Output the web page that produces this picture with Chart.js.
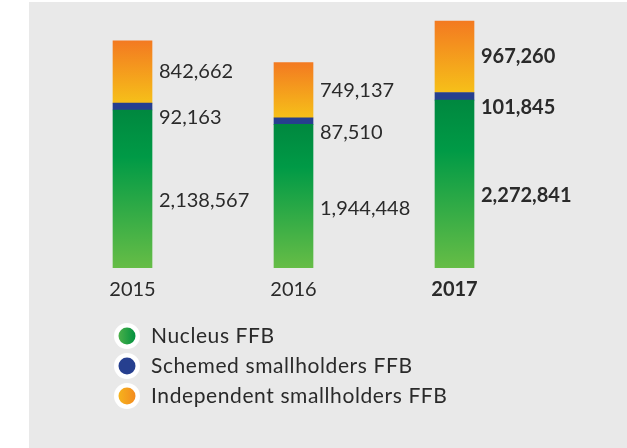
<!DOCTYPE html>
<html>
<head>
<meta charset="utf-8">
<script src="https://cdn.jsdelivr.net/npm/chart.js@4.4.0/dist/chart.umd.min.js"></script>
<style>
    html, body { margin: 0; padding: 0; background: #fff; }
    #wrap { width: 627px; height: 448px; }
</style>
</head>
<body>
<div id="wrap"><canvas id="ffbChart" width="627" height="448"></canvas></div>
<script>
// FFB volumes per year (tonnes)
const years = ['2015', '2016', '2017'];
const nucleus = [2138567, 1944448, 2272841];
const schemed = [92163, 87510, 101845];
const independent = [842662, 749137, 967260];
const seriesNames = ['Nucleus FFB', 'Schemed smallholders FFB', 'Independent smallholders FFB'];
const yMax = 3600000;

const textColor = '#2a2a2a';
const fontName = 'Lato';

function fmt(v) {
    return v.toLocaleString('en-US');
}

// gradient for one bar segment, built from the y scale
function segmentGradient(context, lo, hi, stops, fallback) {
    let chart = context.chart;
    let y = chart.scales.y;
    if (!chart.chartArea || !y) return fallback;
    let i = context.dataIndex;
    let top = y.getPixelForValue(hi[i]);
    let bottom = y.getPixelForValue(lo[i]);
    let g = chart.ctx.createLinearGradient(0, top, 0, bottom);
    stops.forEach(s => g.addColorStop(s[0], s[1]));
    return g;
}

const zeros = years.map(() => 0);
const nucleusTop = nucleus.slice();
const schemedTop = nucleus.map((v, i) => v + schemed[i]);
const independentTop = schemedTop.map((v, i) => v + independent[i]);

// grey panel behind the chart
const panelPlugin = {
    id: 'panel',
    beforeDraw(chart) {
        let ctx = chart.ctx;
        ctx.save();
        ctx.fillStyle = '#ffffff';
        ctx.fillRect(0, 0, chart.width, chart.height);
        ctx.fillStyle = '#e9e9e9';
        ctx.fillRect(29, 2, chart.width - 29, chart.height - 2);
        ctx.restore();
    }
};

// numbers to the right of each segment
const valueLabels = {
    id: 'valueLabels',
    afterDatasetsDraw(chart) {
        let ctx = chart.ctx;
        ctx.save();
        ctx.fillStyle = textColor;
        ctx.textAlign = 'left';
        ctx.textBaseline = 'middle';
        chart.data.datasets.forEach((ds, d) => {
            chart.getDatasetMeta(d).data.forEach((bar, i) => {
                let x = bar.x + bar.width / 2 + 7;
                let mid = (bar.y + bar.base) / 2;
                let y = mid;
                if (d === 0) y = mid + 12;
                if (d === 1) y = mid + 11;
                ctx.font = (i === 2 ? 'bold ' : '') + '20px ' + fontName;
                ctx.fillText(fmt(ds.data[i]), x, y);
            });
        });
        ctx.restore();
    }
};

// legend drawn as a vertical list with ringed dots
const dotLegend = {
    id: 'dotLegend',
    afterDraw(chart) {
        let ctx = chart.ctx;
        let rows = [336, 366, 396];
        ctx.save();
        rows.forEach((y, k) => {
            let cx = 127;
            ctx.beginPath();
            ctx.arc(cx, y, 13, 0, Math.PI * 2);
            ctx.fillStyle = '#ffffff';
            ctx.fill();
            let g = ctx.createLinearGradient(cx - 9, 0, cx + 9, 0);
            if (k === 0) { g.addColorStop(0, '#4cb14a'); g.addColorStop(1, '#00903f'); }
            if (k === 1) { g.addColorStop(0, '#263f8f'); g.addColorStop(1, '#263f8f'); }
            if (k === 2) { g.addColorStop(0, '#f6b41c'); g.addColorStop(1, '#f38a20'); }
            ctx.beginPath();
            ctx.arc(cx, y, 8.5, 0, Math.PI * 2);
            ctx.fillStyle = g;
            ctx.fill();
            ctx.fillStyle = textColor;
            ctx.font = '21px ' + fontName;
            ctx.letterSpacing = '0.6px';
            ctx.textAlign = 'left';
            ctx.textBaseline = 'middle';
            ctx.fillText(seriesNames[k], 151, y);
        });
        ctx.restore();
    }
};

function build() {
    let ctx = document.getElementById('ffbChart').getContext('2d');
    new Chart(ctx, {
        type: 'bar',
        data: {
            labels: years,
            datasets: [{
                label: seriesNames[0],
                data: nucleus,
                backgroundColor: c => segmentGradient(c, zeros, nucleusTop,
                    [[0, '#00883f'], [0.3, '#009a46'], [1, '#66bd46']], '#009a46'),
                barThickness: 39
            }, {
                label: seriesNames[1],
                data: schemed,
                backgroundColor: '#263f8f',
                barThickness: 39
            }, {
                label: seriesNames[2],
                data: independent,
                backgroundColor: c => segmentGradient(c, schemedTop, independentTop,
                    [[0, '#f37a21'], [1, '#f6c019']], '#f5a01c'),
                barThickness: 39
            }]
        },
        options: {
            responsive: false,
            animation: false,
            layout: {
                padding: { left: 52, right: 92, top: 2, bottom: 136 }
            },
            plugins: {
                legend: { display: false },
                tooltip: { enabled: false }
            },
            scales: {
                x: {
                    stacked: true,
                    grid: { display: false, drawTicks: false },
                    border: { display: false },
                    ticks: {
                        color: textColor,
                        padding: 10,
                        font: c => ({ family: fontName, size: 20, weight: c.index === 2 ? 'bold' : 'normal' })
                    }
                },
                y: {
                    stacked: true,
                    display: false,
                    min: 0,
                    max: yMax
                }
            }
        },
        plugins: [panelPlugin, valueLabels, dotLegend]
    });
}

Promise.all([
    document.fonts.load('20px Lato'),
    document.fonts.load('bold 20px Lato')
]).then(build, build);
</script>
</body>
</html>
